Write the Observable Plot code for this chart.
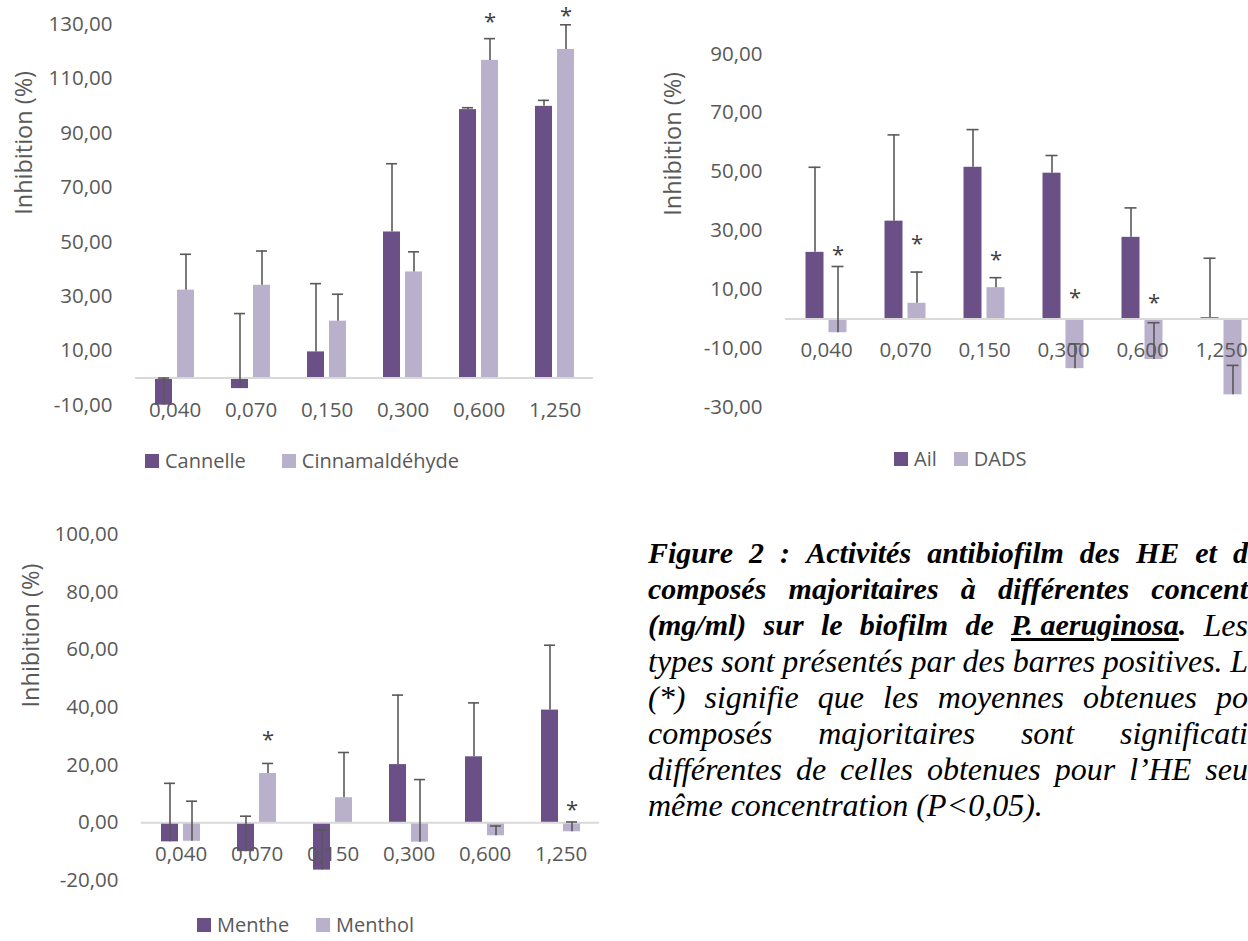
<!DOCTYPE html>
<html>
<head>
<meta charset="utf-8">
<script src="https://cdn.jsdelivr.net/npm/d3@7"></script>
<script src="https://cdn.jsdelivr.net/npm/@observablehq/plot@0.6"></script>
<style>
  html, body { margin: 0; padding: 0; background: #ffffff; overflow: hidden; width: 1248px; height: 941px; }
  #page { position: relative; width: 1248px; height: 941px; overflow: hidden; }
  .chart { position: absolute; }
  .legend { position: absolute; display: flex; align-items: center; height: 18px; line-height: 18px;
            font-family: 'Open Sans', sans-serif; font-size: 20px; color: #595959; white-space: nowrap; }
  .legend .sw { display: inline-block; width: 14px; height: 14px; margin-right: 6px; }
  .legend .item { display: flex; align-items: center; height: 18px; }
  #caption { position: absolute; left: 648px; top: 535px; width: 600px; font-family: 'Liberation Serif', 'Times New Roman', serif;
             font-style: italic; color: #000; line-height: 36px; }
  #caption .line { display: flex; justify-content: space-between; white-space: nowrap; height: 36px; }
  #caption .line span { flex-shrink: 0; white-space: pre; }
  #caption .b { font-weight: bold; font-size: 30px; }
  #caption .r { font-weight: normal; font-size: 32px; }
  #caption u { text-decoration-thickness: 2.5px; text-underline-offset: 3px; }
  #caption .last { display: flex; gap: 8px; white-space: nowrap; height: 36px; }
  #caption .last span { white-space: pre; }
</style>
</head>
<body>
<div id="page"></div>
<script>
// ---------- DATA ----------
const concentrations = ["0,040", "0,070", "0,150", "0,300", "0,600", "1,250"];

// Chart 1 : Cannelle / Cinnamaldéhyde
const series1Names = ["Cannelle", "Cinnamaldéhyde"];
const cannelle        = [-10.0, -3.9, 9.6, 53.7, 98.7, 99.9];
const cannelleErr     = [10.0, 27.6, 25.1, 25.1, 0.7, 2.2];
const cinnamaldehyde  = [32.3, 34.1, 20.9, 39.0, 116.8, 120.8];
const cinnamaldehydeErr = [13.2, 12.6, 9.9, 7.4, 8.0, 9.1];
const stars1 = [null, null, null, null, 133.0, 135.2];
const yTicks1 = [-10, 10, 30, 50, 70, 90, 110, 130];

// Chart 2 : Ail / DADS
const series2Names = ["Ail", "DADS"];
const ail     = [22.6, 33.2, 51.5, 49.5, 27.7, 0.4];
const ailErr  = [28.9, 29.3, 12.8, 6.0, 10.0, 20.2];
const dads    = [-4.7, 5.3, 10.6, -16.9, -13.8, -25.8];
const dadsErr = [22.5, 10.6, 3.4, 8.4, 12.5, 10.0];
const stars2 = [23.9, 27.6, 21.9, 9.3, 7.6, null];
const yTicks2 = [-30, -10, 10, 30, 50, 70, 90];

// Chart 3 : Menthe / Menthol
const series3Names = ["Menthe", "Menthol"];
const menthe     = [-6.6, -10.0, -16.4, 20.2, 22.9, 39.1];
const mentheErr  = [20.3, 12.3, 13.9, 24.1, 18.7, 22.5];
const menthol    = [-6.4, 17.1, 8.7, -6.7, -4.5, -3.1];
const mentholErr = [13.9, 3.5, 15.7, 21.7, 3.4, 3.4];
const stars3 = [null, 30.7, null, null, null, 6.7];
const yTicks3 = [-20, 0, 20, 40, 60, 80, 100];

const yTitle = "Inhibition (%)";
const colors = ["#6a5087", "#b9b0cb"];

// ---------- DRAWING ----------
const page = document.getElementById("page");
const fmt = d => d.toFixed(2).replace(".", ",");
const rowsOf = (vals, errs) => concentrations.map((c, i) => ({conc: c, value: vals[i], err: errs[i]}));

function drawChart(cfg) {
  const off = cfg.offset;
  const sA = rowsOf(cfg.a, cfg.aErr);
  const sB = rowsOf(cfg.b, cfg.bErr);
  const starRows = concentrations.map((c, i) => ({conc: c, star: cfg.stars[i]})).filter(d => d.star != null);
  const errMarks = (rows, dx) => [
    Plot.ruleX(rows, {x: "conc", y1: "value", y2: d => d.value + d.err, stroke: "#595959", strokeWidth: 1.6, dx}),
    Plot.tickY(rows, {x: "conc", y: d => d.value + d.err, stroke: "#595959", strokeWidth: 1.6, dx, insetLeft: 3, insetRight: 3})
  ];
  const svg = Plot.plot({
    width: cfg.width, height: cfg.height,
    marginLeft: cfg.ml, marginRight: cfg.mr, marginTop: cfg.mt, marginBottom: cfg.mb,
    style: {fontFamily: "'Open Sans', sans-serif", fontSize: "20.5px", color: "#595959", background: "transparent", overflow: "visible"},
    x: {domain: concentrations, axis: null, paddingInner: cfg.pin, paddingOuter: cfg.pin / 2},
    y: {domain: cfg.domain, ticks: cfg.ticks, tickSize: 0, tickPadding: 23, tickFormat: fmt, label: null},
    marks: [
      Plot.barY(sA, {x: "conc", y: "value", fill: colors[0], dx: -off}),
      Plot.barY(sB, {x: "conc", y: "value", fill: colors[1], dx: off}),
      Plot.ruleY([0], {stroke: "#d9d9d9", strokeWidth: 2}),
      ...errMarks(sA, -off),
      ...errMarks(sB, off),
      Plot.text(starRows, {x: "conc", y: "star", text: () => "*", dx: off, dy: 6, fontSize: 22, fill: "#404040"}),
      Plot.text(concentrations, {x: d => d, y: 0, text: d => d, dy: 32, fill: "#595959"}),
      Plot.text([yTitle], {frameAnchor: "left", rotate: -90, dx: cfg.titleDx, fontSize: 23.5, fill: "#595959"})
    ]
  });
  svg.classList.add("chart");
  svg.style.left = cfg.left + "px";
  svg.style.top = cfg.top + "px";
  page.appendChild(svg);

  const leg = document.createElement("div");
  leg.className = "legend";
  leg.style.left = cfg.legLeft + "px";
  leg.style.top = (cfg.legY - 9) + "px";
  leg.style.gap = cfg.legGap + "px";
  cfg.names.forEach((n, i) => {
    const it = document.createElement("div");
    it.className = "item";
    const sw = document.createElement("span");
    sw.className = "sw";
    sw.style.background = colors[i];
    const t = document.createElement("span");
    t.textContent = n;
    it.appendChild(sw); it.appendChild(t);
    leg.appendChild(it);
  });
  page.appendChild(leg);
}

drawChart({left: 0, top: 0, width: 620, height: 420, ml: 135, mr: 27, mt: 24, mb: 15.3,
  domain: [-10, 130], ticks: yTicks1, pin: 0.777, offset: 11, titleDx: -111,
  a: cannelle, aErr: cannelleErr, b: cinnamaldehyde, bErr: cinnamaldehydeErr, stars: stars1,
  names: series1Names, legLeft: 145, legY: 461, legGap: 36});

drawChart({left: 620, top: 0, width: 660, height: 420, ml: 165, mr: 19, mt: 24, mb: 13.3,
  domain: [-30, 100], ticks: yTicks2, pin: 0.773, offset: 11.5, titleDx: -112,
  a: ail, aErr: ailErr, b: dads, bErr: dadsErr, stars: stars2,
  names: series2Names, legLeft: 894, legY: 459, legGap: 17});

drawChart({left: 0, top: 500, width: 620, height: 400, ml: 141, mr: 21, mt: 34, mb: 20,
  domain: [-20, 100], ticks: yTicks3, pin: 0.777, offset: 11, titleDx: -110,
  a: menthe, aErr: mentheErr, b: menthol, bErr: mentholErr, stars: stars3,
  names: series3Names, legLeft: 197, legY: 925, legGap: 27});

// ---------- CAPTION ----------
const captionLines = [
  {cls: "b", words: ["Figure", "2", ":", "Activités", "antibiofilm", "des", "HE", "et", "d"]},
  {cls: "b", words: ["composés", "majoritaires", "à", "différentes", "concent"]},
  {cls: "mix", words: []},
  {cls: "r", words: ["types", "sont", "présentés", "par", "des", "barres", "positives.", "L"]},
  {cls: "r", words: ["(*)", "signifie", "que", "les", "moyennes", "obtenues", "po"]},
  {cls: "r", words: ["composés", "majoritaires", "sont", "significati"]},
  {cls: "r", words: ["différentes", "de", "celles", "obtenues", "pour", "l’HE", "seu"]},
  {cls: "last", words: ["même", "concentration", "(P<0,05)."]}
];
const cap = document.createElement("div");
cap.id = "caption";
captionLines.forEach((ln) => {
  const div = document.createElement("div");
  if (ln.cls === "mix") {
    div.className = "line";
    const parts = [["b", "(mg/ml)"], ["b", "sur"], ["b", "le"], ["b", "biofilm"], ["b", "de"]];
    parts.forEach(([c, w]) => { const s = document.createElement("span"); s.className = c; s.textContent = w; div.appendChild(s); });
    const sp = document.createElement("span");
    sp.className = "b";
    const u = document.createElement("u");
    u.textContent = "P. aeruginosa";
    sp.appendChild(u);
    sp.appendChild(document.createTextNode("."));
    div.appendChild(sp);
    const les = document.createElement("span"); les.className = "r"; les.textContent = "Les";
    div.appendChild(les);
  } else if (ln.cls === "last") {
    div.className = "last";
    ln.words.forEach(w => { const s = document.createElement("span"); s.className = "r"; s.textContent = w; div.appendChild(s); });
  } else {
    div.className = "line";
    ln.words.forEach(w => { const s = document.createElement("span"); s.className = ln.cls; s.textContent = w; div.appendChild(s); });
  }
  cap.appendChild(div);
});
page.appendChild(cap);
</script>
</body>
</html>
